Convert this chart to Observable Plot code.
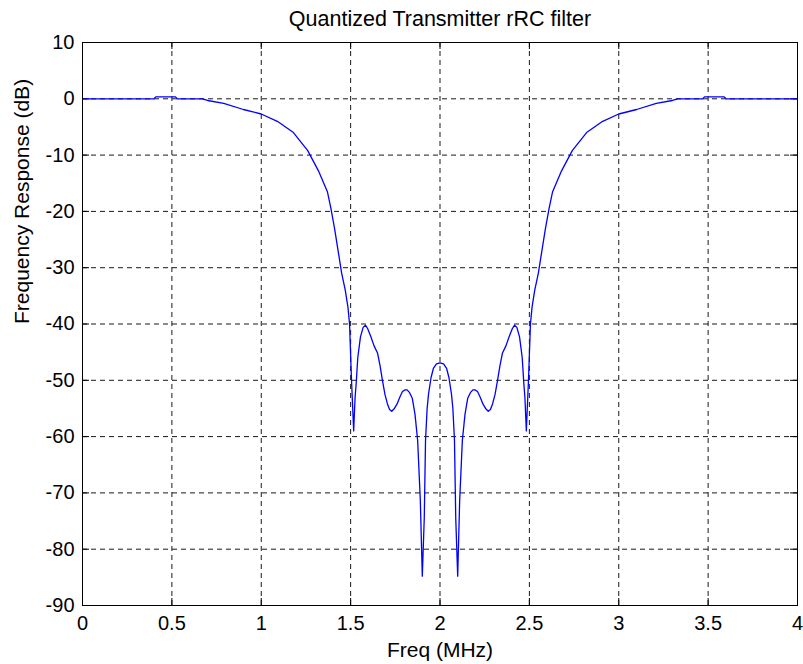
<!DOCTYPE html>
<html>
<head>
<meta charset="utf-8">
<script src="https://cdn.jsdelivr.net/npm/d3@7"></script>
<script src="https://cdn.jsdelivr.net/npm/@observablehq/plot@0.6"></script>
<style>
  html, body { margin: 0; padding: 0; background: #fff; }
</style>
</head>
<body>
<div id="chart"></div>
<script>
// Frequency (MHz)
const freq = [
  0.000, 0.400, 0.410, 0.520, 0.530, 0.670, 0.700, 0.790, 0.900, 1.000,
  1.090, 1.180, 1.260, 1.320, 1.370, 1.390, 1.410, 1.430, 1.450, 1.470,
  1.485, 1.494, 1.505, 1.517, 1.525, 1.531, 1.540, 1.555, 1.570, 1.583, 1.595,
  1.614, 1.630, 1.651, 1.665, 1.678, 1.692, 1.706, 1.718, 1.730, 1.745,
  1.760, 1.775, 1.790, 1.805, 1.816, 1.830, 1.845, 1.860, 1.875, 1.890,
  1.901, 1.912, 1.919, 1.928, 1.936, 1.950, 1.963, 1.980, 2.000,
  2.020, 2.037, 2.050, 2.064, 2.072, 2.081, 2.088, 2.099, 2.110, 2.125,
  2.140, 2.155, 2.170, 2.184, 2.195, 2.210, 2.225, 2.240, 2.255, 2.270,
  2.282, 2.294, 2.308, 2.322, 2.335, 2.349, 2.370, 2.386, 2.405, 2.417,
  2.430, 2.445, 2.460, 2.469, 2.475, 2.483, 2.495, 2.506, 2.515, 2.530,
  2.550, 2.570, 2.590, 2.610, 2.630, 2.680, 2.740, 2.820, 2.910, 3.000, 3.100,
  3.210, 3.300, 3.330, 3.470, 3.480, 3.590, 3.600, 4.000
];
// Frequency response (dB)
const responseDb = [
  0.0, 0.0, 0.35, 0.35, 0.0, 0.0, -0.3, -0.8, -1.9, -2.7,
  -4.0, -6.0, -9.2, -12.8, -16.5, -19.5, -23.0, -27.0, -31.0, -34.0,
  -37.0, -40.0, -50.0, -59.0, -53.0, -50.6, -46.0, -42.3, -40.6, -40.2, -40.8,
  -42.3, -43.8, -45.2, -47.5, -50.0, -52.5, -54.2, -55.2, -55.5, -55.0,
  -54.2, -53.0, -52.0, -51.7, -51.7, -52.2, -53.2, -56.0, -60.7, -71.4,
  -84.8, -74.4, -60.7, -55.0, -52.4, -49.5, -47.9, -47.1, -46.9,
  -47.1, -47.9, -49.5, -52.4, -55.0, -60.7, -74.4, -84.8, -71.4, -60.7,
  -56.0, -53.2, -52.2, -51.7, -51.7, -52.0, -53.0, -54.2, -55.0, -55.5,
  -55.2, -54.2, -52.5, -50.0, -47.5, -45.2, -43.8, -42.3, -40.8, -40.2,
  -40.6, -42.3, -46.0, -50.6, -53.0, -59.0, -50.0, -40.0, -37.0, -34.0,
  -31.0, -27.0, -23.0, -19.5, -16.5, -12.8, -9.2, -6.0, -4.0, -2.7, -1.9,
  -0.8, -0.3, 0.0, 0.0, 0.35, 0.35, 0.0, 0.0
];
const xTicks = [0, 0.5, 1, 1.5, 2, 2.5, 3, 3.5, 4];
const yTicks = [10, 0, -10, -20, -30, -40, -50, -60, -70, -80, -90];

const titleText = "Quantized Transmitter rRC filter";
const xLabel = "Freq (MHz)";
const yLabel = "Frequency Response (dB)";

const data = freq.map((f, i) => ({f, db: responseDb[i]}));
const font = "'Liberation Sans', Arial, Helvetica, sans-serif";
const frameH = 664 - 42 - 59;
const frameW = 803 - 82 - 6;
const tickLen = 7;

const chart = Plot.plot({
  width: 803,
  height: 664,
  marginLeft: 82,
  marginRight: 6,
  marginTop: 42,
  marginBottom: 59,
  style: {fontFamily: font, fontSize: "20px", background: "#fff", color: "#000"},
  x: {domain: [0, 4]},
  y: {domain: [-90, 10]},
  marks: [
    Plot.gridX(xTicks, {stroke: "#000", strokeOpacity: 0.9, strokeWidth: 1, strokeDasharray: "5,4"}),
    Plot.gridY(yTicks, {stroke: "#000", strokeOpacity: 0.9, strokeWidth: 1, strokeDasharray: "5,4"}),
    Plot.tickX(xTicks, {x: d => d, stroke: "#000", insetTop: frameH - tickLen}),
    Plot.tickX(xTicks, {x: d => d, stroke: "#000", insetBottom: frameH - tickLen}),
    Plot.tickY(yTicks, {y: d => d, stroke: "#000", insetRight: frameW - tickLen}),
    Plot.tickY(yTicks, {y: d => d, stroke: "#000", insetLeft: frameW - tickLen}),
    Plot.line(data, {x: "f", y: "db", stroke: "#0000ff", strokeWidth: 1.3}),
    Plot.frame({stroke: "#000", strokeWidth: 1}),
    Plot.axisX(xTicks, {tickSize: 0, tickPadding: 10, label: null, tickFormat: d => String(d), fontSize: 20}),
    Plot.axisY(yTicks, {tickSize: 0, tickPadding: 8, label: null, tickFormat: d => String(d), fontSize: 20}),
    Plot.text([titleText], {frameAnchor: "top", lineAnchor: "bottom", dy: -17, fontSize: 21.5, fill: "#000"}),
    Plot.text([xLabel], {frameAnchor: "bottom", lineAnchor: "bottom", dy: 51, fontSize: 21, fill: "#000"}),
    Plot.text([yLabel], {frameAnchor: "left", lineAnchor: "bottom", rotate: -90, dx: -54, fontSize: 21, fill: "#000"})
  ]
});
document.getElementById("chart").appendChild(chart);
</script>
</body>
</html>
